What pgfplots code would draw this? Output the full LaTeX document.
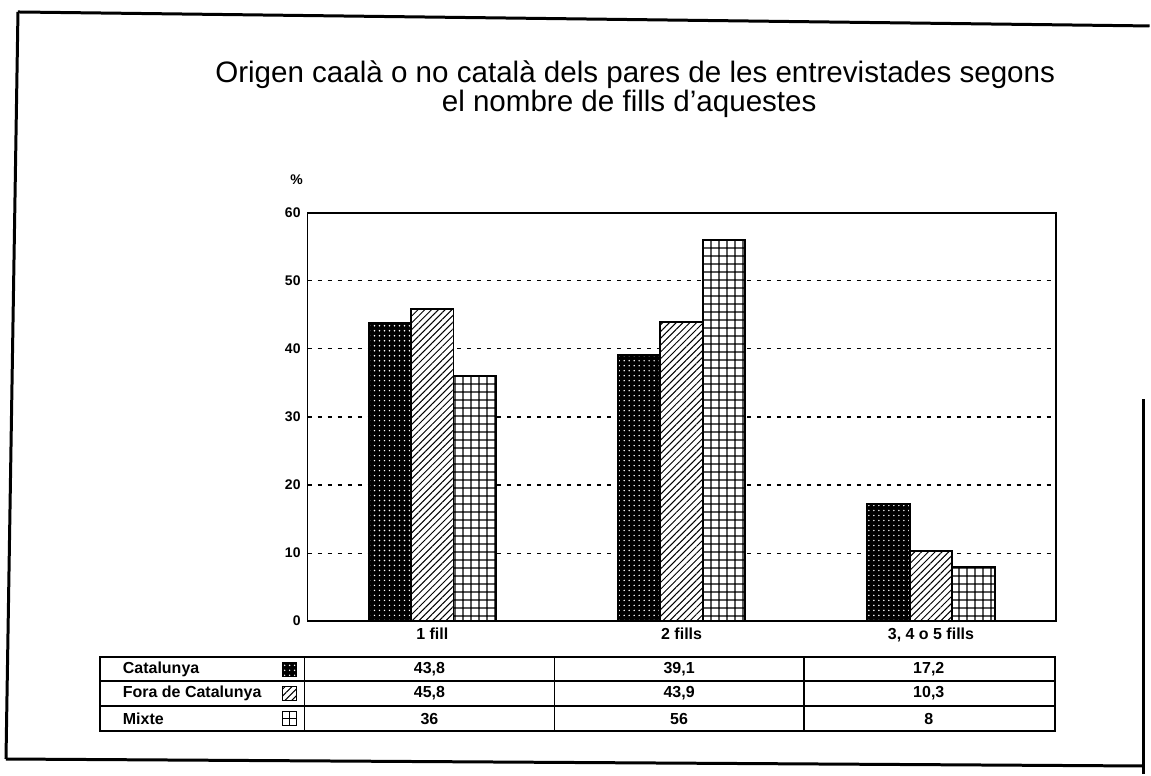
\documentclass[border=0pt]{standalone}
\usepackage{pgfplots}
\pgfplotsset{compat=1.18}
\usepackage{pgfplotstable}
\usetikzlibrary{patterns,patterns.meta}
\usepackage{fontspec}
\setmainfont{Liberation Sans}

\pgfplotstableread{
x cat fora mixte
0 43.8 45.8 36
1 39.1 43.9 56
2 17.2 10.3 8
}\datatable

\tikzset{
 catstyle/.style={fill=black, postaction={pattern={Dots[distance=2.5pt,radius=0.4pt]}, pattern color=white}},
 forastyle/.style={fill=white, postaction={pattern={Lines[angle=45,distance=2.4pt,line width=0.5pt]}, pattern color=black}},
 mixstyle/.style={fill=white, postaction={pattern={Hatch[distance=4pt,line width=0.7pt]}, pattern color=black}},
}

\begin{document}
\begin{tikzpicture}[x=0.5pt,y=0.5pt]
\path (0,0) rectangle (1151,775);
% outer frame
\draw[line width=1.5pt] (18,763) -- (1151,749);
\draw[line width=1.5pt] (18,763) -- (6,15);
\draw[line width=1.5pt] (6,15) -- (1145,8);
\draw[line width=1.2pt] (1145,0) -- (1145,375);

\begin{axis}[
 at={(154pt,76.5pt)}, anchor=south west, scale only axis,
 width=374.5pt, height=204.5pt,
 xmin=-0.5, xmax=2.5, ymin=0, ymax=60,
 ybar=0pt, bar width=21.25pt,
 xtick={0,1,2}, xticklabels={1 fill, 2 fills, {3, 4 o 5 fills}},
 ytick={0,10,...,60},
 ymajorgrids, grid style={black, line width=0.6pt, dash pattern=on 2pt off 3pt},
 major tick length=0pt,
 axis line style={line width=0.9pt},
 yticklabel style={font=\bfseries\fontsize{7}{8}\selectfont},
 xticklabel style={font=\bfseries\fontsize{8}{9}\selectfont},
 /pgf/number format/assume math mode=true,
]
\addplot[draw=black, line width=0.9pt, catstyle] table[x=x,y=cat]{\datatable};
\addplot[draw=black, line width=0.9pt, forastyle] table[x=x,y=fora]{\datatable};
\addplot[draw=black, line width=0.9pt, mixstyle] table[x=x,y=mixte]{\datatable};
\end{axis}

\node[font=\bfseries\fontsize{7}{8}\selectfont] at (297,595) {\%};

% title
\node[font=\fontsize{14.8}{17}\selectfont] at (636,700) {Origen caalà o no català dels pares de les entrevistades segons};
\node[font=\fontsize{14.8}{17}\selectfont] at (630,671) {el nombre de fills d'aquestes};

% data table
\draw[line width=0.9pt] (100,43) rectangle (1056,117);
\draw[line width=0.7pt] (100,93) -- (1056,93);
\draw[line width=0.7pt] (100,68) -- (1056,68);
\draw[line width=0.7pt] (305,43) -- (305,117);
\draw[line width=0.7pt] (555,43) -- (555,117);
\draw[line width=0.7pt] (805,43) -- (805,117);

\begin{scope}[font=\bfseries\fontsize{8}{9}\selectfont]
\node[anchor=west] at (116,105) {Catalunya};
\node[anchor=west] at (116,80.5) {Fora de Catalunya};
\node[anchor=west] at (116,55.5) {Mixte};
\node at (430,105) {43,8}; \node at (680,105) {39,1}; \node at (930,105) {17,2};
\node at (430,80.5) {45,8}; \node at (680,80.5) {43,9}; \node at (930,80.5) {10,3};
\node at (430,55.5) {36}; \node at (680,55.5) {56}; \node at (930,55.5) {8};
\end{scope}
\draw[line width=0.6pt, catstyle] (283,98) rectangle (297,112);
\draw[line width=0.6pt, forastyle] (283,73.5) rectangle (297,87.5);
\draw[line width=0.6pt, fill=white] (283,48.5) rectangle (297,62.5);
\draw[line width=0.6pt] (290,48.5) -- (290,62.5) (283,55.5) -- (297,55.5);
\end{tikzpicture}
\end{document}
